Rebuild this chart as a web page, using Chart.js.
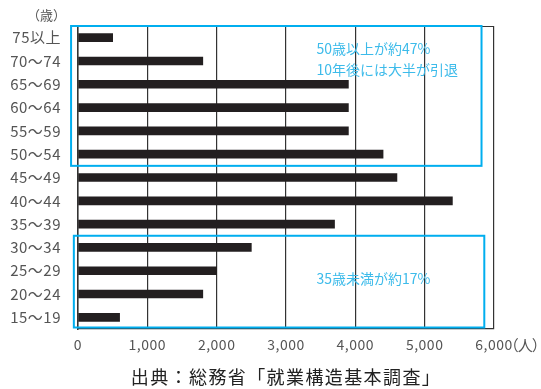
<!DOCTYPE html>
<html><head><meta charset="utf-8">
<script src="https://cdn.jsdelivr.net/npm/chart.js@4/dist/chart.umd.min.js"></script>
<style>html,body{margin:0;padding:0;background:#fff;}#wrap{width:541px;height:389px;position:relative;}</style>
</head><body><div id="wrap"><canvas id="c" width="541" height="389"></canvas></div>
<script>
const categories = ['75以上','70～74','65～69','60～64','55～59','50～54','45～49','40～44','35～39','30～34','25～29','20～24','15～19'];
const values = [500,1800,3900,3900,3900,4400,4600,5400,3700,2500,2000,1800,600];
const xTicks = [0,1000,2000,3000,4000,5000,6000];
const xUnit = '（人）';
const yUnit = '（歳）';
const sourceText = '出典：総務省「就業構造基本調査」';
// annotation boxes: [firstCategoryIndex, lastCategoryIndex, xStart, xEnd]
const boxRanges = [[0,5,-100,5820],[9,12,-60,5860]];
// annotation texts: [text, xValue, categoryPosition]
const boxTexts = [['50歳以上が約47%',3440,0.48],['10年後には大半が引退',3440,1.36],['35歳未満が約17%',3440,10.32]];

const FONT = '"Noto Sans CJK JP","Noto Sans",sans-serif';
const BLUE = '#00aeef';
const TEXTBLUE = '#3dbbea';

const decor = {
  id:'decor',
  beforeDraw(chart){ chart.ctx.letterSpacing = '0.5px'; },
  afterDraw(chart){
    const ctx = chart.ctx, xs = chart.scales.x, ys = chart.scales.y, ca = chart.chartArea;
    ctx.save();
    ctx.letterSpacing = '0px';
    // top border
    ctx.strokeStyle = '#333'; ctx.lineWidth = 1.2;
    ctx.beginPath(); ctx.moveTo(ca.left, ca.top+0.5); ctx.lineTo(ca.right, ca.top+0.5); ctx.stroke();
    const half = (ys.getPixelForValue(1) - ys.getPixelForValue(0))/2;
    // boxes
    ctx.strokeStyle = BLUE; ctx.lineWidth = 2;
    boxRanges.forEach(([a,b,x0,x1])=>{
      const top = Math.max(ys.getPixelForValue(a)-half, ca.top);
      const bot = Math.min(ys.getPixelForValue(b)+half, ca.bottom-1.5);
      const l = xs.getPixelForValue(x0), r = xs.getPixelForValue(x1);
      ctx.strokeRect(l, top, r-l, bot-top);
    });
    // texts
    ctx.fillStyle = TEXTBLUE; ctx.font = '14px '+FONT; ctx.textAlign='left'; ctx.textBaseline='middle';
    boxTexts.forEach(([t,xv,pos])=>{
      ctx.fillText(t, xs.getPixelForValue(xv), ys.getPixelForValue(0) + pos*2*half);
    });
    // units
    ctx.fillStyle = '#555'; ctx.font = '14px '+FONT; ctx.letterSpacing='0.5px';
    const lastLbl = xTicks[xTicks.length-1].toLocaleString('en-US');
    const w = ctx.measureText(lastLbl).width;
    ctx.font = '15px '+FONT; ctx.letterSpacing='-1px';
    ctx.textAlign='left';
    ctx.fillText(xUnit, xs.getPixelForValue(xTicks[xTicks.length-1]) + w/2 - 9, ca.bottom + 16);
    ctx.font = '13px '+FONT; ctx.textAlign='right'; ctx.letterSpacing='0px';
    ctx.fillText(yUnit, 66, 15);
    // source
    ctx.fillStyle = '#222'; ctx.font = '18px '+FONT; ctx.textAlign='center'; ctx.letterSpacing='1.4px';
    ctx.fillText(sourceText, 286, 377);
    ctx.restore();
  }
};

new Chart(document.getElementById('c'), {
  type:'bar',
  data:{ labels:categories, datasets:[{ data:values, backgroundColor:'#231f20', barThickness:8, borderWidth:0 }]},
  options:{
    indexAxis:'y', responsive:false, animation:false, devicePixelRatio:1,
    layout:{ padding:{ top:25, right:47, bottom:30, left:0 } },
    plugins:{ legend:{display:false}, tooltip:{enabled:false} },
    scales:{
      x:{ min:0, max:6000, afterFit(s){ s.height = 30; },
          afterBuildTicks(s){ s.ticks = xTicks.map(v=>({value:v})); },
          ticks:{ color:'#555', font:{ size:14, family:FONT }, padding:7, maxRotation:0,
                  callback:(v)=>Number(v).toLocaleString('en-US') },
          grid:{ color:'#333', lineWidth:1.2, drawTicks:false },
          border:{ display:true, color:'#333', width:1.2 } },
      y:{ afterFit(s){ s.width = 78; },
          ticks:{ color:'#555', font:{ size:15, family:FONT }, padding:17 },
          grid:{ display:false, drawTicks:false },
          border:{ display:true, color:'#333', width:1.5 } }
    }
  },
  plugins:[decor]
});
</script></body></html>
